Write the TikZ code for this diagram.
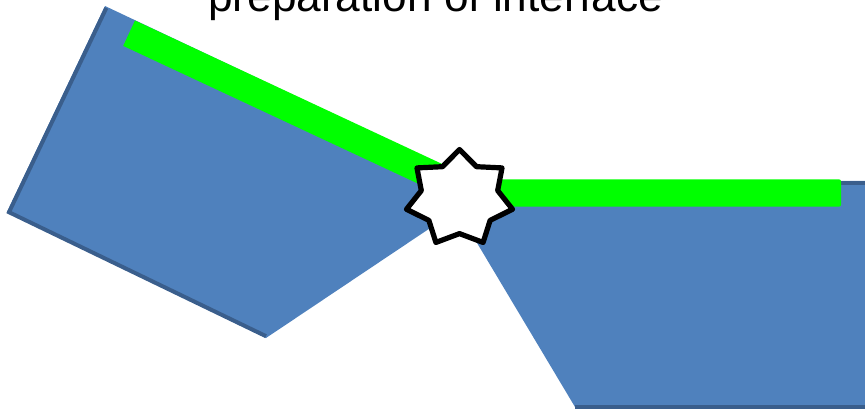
\documentclass[tikz,border=0pt]{standalone}
\usepackage{fontspec}
\setmainfont{Liberation Sans}
\usetikzlibrary{calc}
\definecolor{blockblue}{HTML}{4F81BD}
\definecolor{blockdark}{HTML}{3A5E8C}
\definecolor{stripgreen}{HTML}{00FF00}
\tikzset{
  block/.style={fill=blockblue, draw=none},
  blockedge/.style={draw=blockdark, line width=4pt, line cap=butt, line join=miter},
  strip/.style={fill=stripgreen, draw=none},
  starshape/.style={fill=white, draw=black, line width=5.2pt, line join=round},
  titletext/.style={font=\fontsize{44.2}{50}\selectfont, text=black, inner sep=0pt, anchor=base}
}
\begin{document}
\begin{tikzpicture}[x=1pt,y=-1pt]
\useasboundingbox (0,0) rectangle (865,409);
\clip (0,0) rectangle (865,409);
% left block
\coordinate (LA) at (105,6);
\coordinate (LB) at (7,212);
\coordinate (LC) at (266,338);
\coordinate (LD) at (490,188);
\fill[block] (LA) -- (LB) -- (LC) -- (LD) -- cycle;
\draw[blockedge] ($(LA)+(1.3,2)$) -- ($(LB)+(2,0.2)$) -- ($(LC)+(0,-1.8)$);
% right block
\coordinate (RA) at (440,181);
\coordinate (RB) at (875,181);
\coordinate (RC) at (875,412);
\coordinate (RD) at (578,412);
\fill[block] (RA) -- (RB) -- (RC) -- (RD) -- cycle;
\draw[blockedge] ($(RA)+(0,2)$) -- ($(RB)+(0,2)$);
\draw[blockedge] (575,407) -- (875,407);
% green strips
\fill[strip] (135,20.5) -- (123.2,45.9) -- (458.2,202.4) -- (470,177) -- cycle;
\fill[strip, rounded corners=2pt] (450,179.3) rectangle (841,206.7);
% star
\draw[starshape] plot[samples at={0,...,13}]
  ({459.5+54.4*(1-0.28*mod(\x,2))*sin(\x*25.7142857)},
   {198.4-48.9*(1-0.28*mod(\x,2))*cos(\x*25.7142857)}) -- cycle;
% title
\node[titletext] (title) at (435.5,11.5) {preparation of interface};
\end{tikzpicture}
\end{document}
